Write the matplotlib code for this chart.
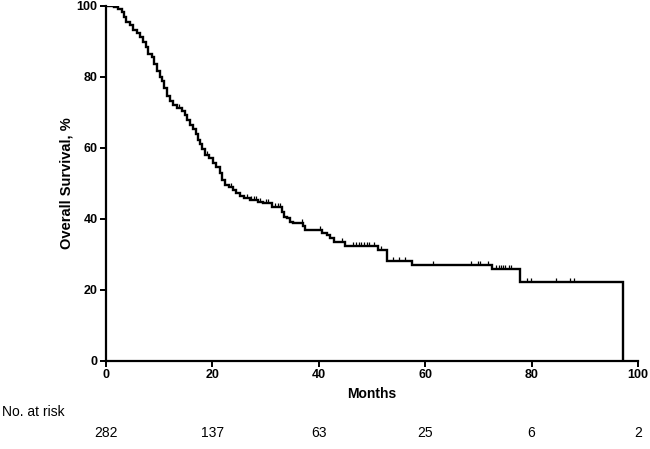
import numpy as np
import matplotlib
matplotlib.use("Agg")
import matplotlib.pyplot as plt
import matplotlib.transforms as mtransforms
from matplotlib.path import Path

plt.rcParams['font.family'] = ['Liberation Sans', 'DejaVu Sans']

# Kaplan-Meier steps: time of drop (months) and level after it (%)
event_months = [0, 1.5, 2.3, 3.0, 3.4, 3.7, 4.5, 5.1, 5.8, 6.4, 7.0, 7.5, 7.9, 8.6,
                9.1, 9.6, 10.1, 10.6, 11.0, 11.5, 12.0, 12.6, 13.3, 14.3, 14.8, 15.2,
                15.8, 16.4, 16.9, 17.3, 17.7, 18.1, 18.6, 19.3, 20.1, 20.7, 21.4, 21.9,
                22.4, 23.2, 23.9, 24.5, 25.2, 26.0, 27.0, 28.5, 29.5, 31.2, 33.0, 33.5,
                34.0, 34.6, 35.2, 37.0, 37.4, 40.6, 41.5, 42.1, 42.9, 45.0, 51.1, 52.8,
                57.5, 72.6, 77.8, 97.1]
survival = [100, 99.6, 99.2, 98.2, 96.8, 95.4, 94.5, 93.2, 92.2, 91.2, 89.8, 88.3, 86.5, 85.5,
            83.5, 81.5, 80.0, 78.8, 76.8, 74.5, 73.2, 72.0, 71.3, 70.4, 69.3, 67.8,
            66.5, 65.4, 63.8, 62.3, 61.0, 59.5, 58.0, 57.2, 55.8, 54.5, 52.8, 51.0,
            49.5, 48.8, 48.1, 47.2, 46.3, 45.8, 45.4, 44.8, 44.4, 43.3, 41.8, 40.4,
            40.1, 39.0, 38.8, 37.8, 36.8, 35.9, 35.4, 34.5, 33.4, 32.3, 31.2, 28.1,
            27.0, 25.7, 22.3, 0]

# censored observations (months)
censor_months = [13.8, 19.0, 23.5, 26.5, 27.3, 27.8, 28.2, 29.0, 30.0, 30.5, 31.8, 32.3,
                 32.7, 36.8, 40.3, 44.3, 46.5, 47.0, 47.5, 48.0, 48.5, 49.0, 49.5, 50.3,
                 51.7, 54.0, 55.1, 56.2, 61.5, 68.7, 70.0, 70.3, 71.9, 73.4, 73.8, 74.2,
                 74.6, 75.0, 75.8, 76.1, 79.2, 79.8, 84.5, 87.3, 88.0]

risk_months = [0, 20, 40, 60, 80, 100]
at_risk = [282, 137, 63, 25, 6, 2]

fig = plt.figure(figsize=(6.5, 4.49), dpi=100)
ax = fig.add_axes([0.163, 0.1967, 0.8185, 0.7906])

ax.step(event_months, survival, where='post', color='black', lw=1.7, solid_joinstyle='miter')

# censor ticks sit on the curve
idx = np.searchsorted(event_months, censor_months, side='right') - 1
censor_level = np.array(survival)[idx]
up_tick = Path([[0, 0], [0, 1]])
ax.plot(censor_months, censor_level, ls='none', marker=up_tick, ms=6, mew=0.9,
        color='black')

ax.set_xlim(0, 100)
ax.set_ylim(0, 100)
ax.set_xticks(risk_months)
ax.set_yticks([0, 20, 40, 60, 80, 100])
for s in ['top', 'right']:
    ax.spines[s].set_visible(False)
for s in ['left', 'bottom']:
    ax.spines[s].set_linewidth(1.6)
ax.tick_params(width=1.4, length=4, labelsize=9, pad=2)
for lab in ax.get_xticklabels() + ax.get_yticklabels():
    lab.set_fontweight('bold')

ax.set_xlabel('Months', fontsize=10, fontweight='bold', labelpad=4)
ax.set_ylabel('Overall Survival, %', fontsize=10.5, fontweight='bold', labelpad=2)

# number at risk table
fig.text(0.003, 0.082, 'No. at risk', fontsize=10, va='center', ha='left')
trans = mtransforms.blended_transform_factory(ax.transData, fig.transFigure)
for m, n in zip(risk_months, at_risk):
    ax.text(m, 0.0356, str(n), transform=trans, ha='center', va='center', fontsize=10)

fig.savefig('out.png', dpi=100)
